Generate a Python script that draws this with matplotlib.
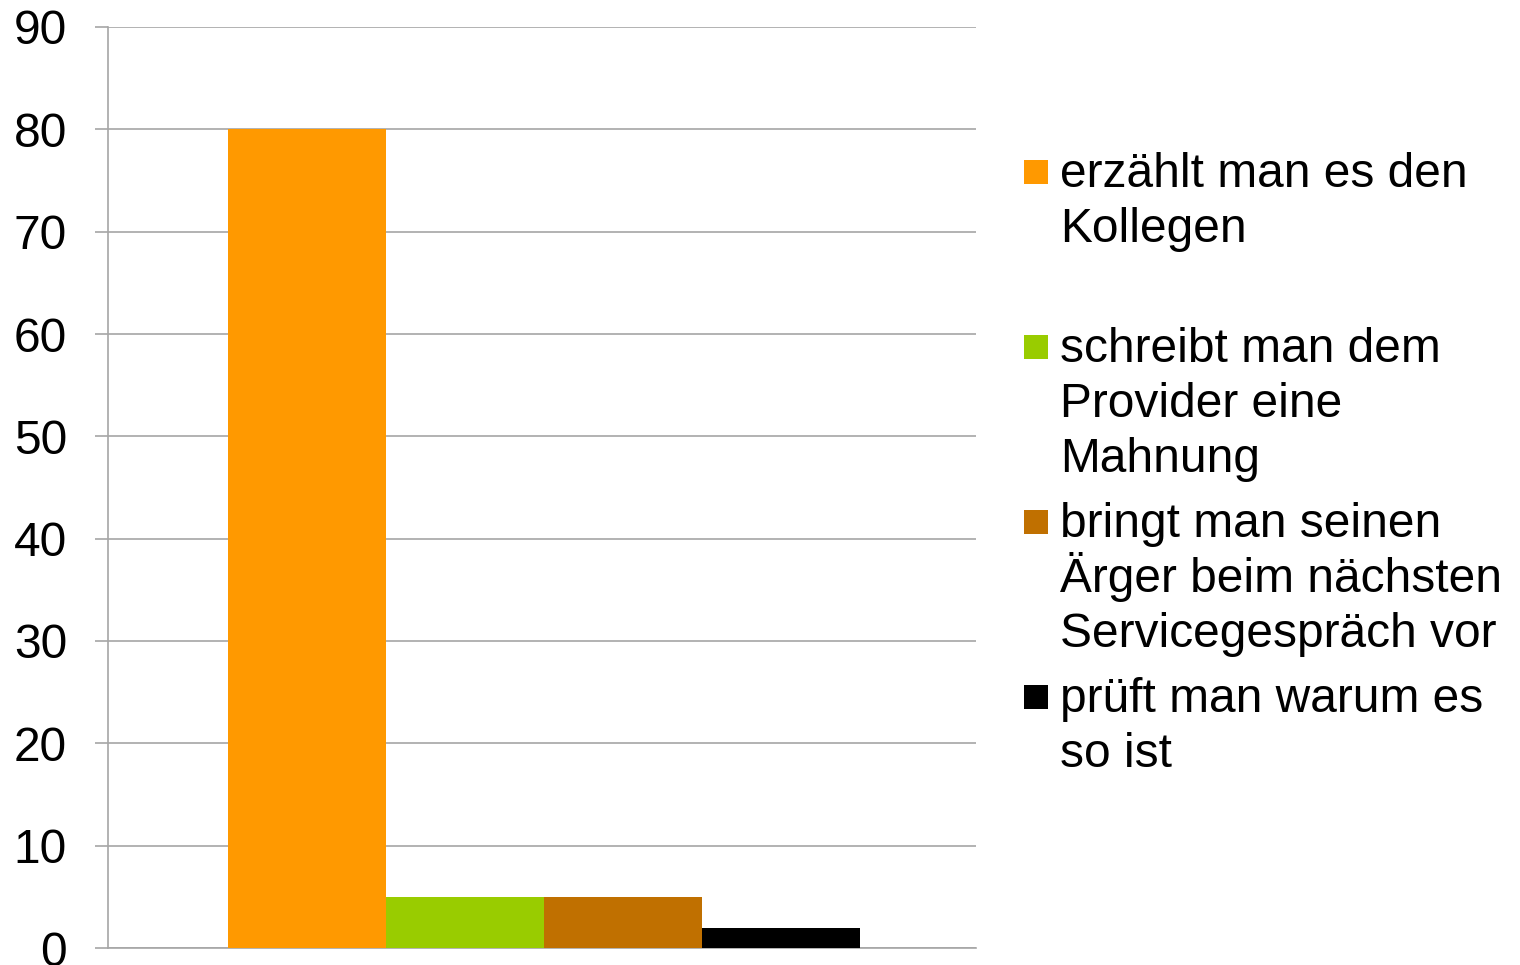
import matplotlib
matplotlib.use("Agg")
import matplotlib.pyplot as plt
from matplotlib.patches import Rectangle

labels = [
    "erzählt man es den\nKollegen",
    "schreibt man dem\nProvider eine\nMahnung",
    "bringt man seinen\nÄrger beim nächsten\nServicegespräch vor",
    "prüft man warum es\nso ist",
]
values = [80, 5, 5, 2]
colors = ["#FF9900", "#99CC00", "#C07000", "#000000"]
yticks = [0, 10, 20, 30, 40, 50, 60, 70, 80, 90]

W, H = 1520, 965
plt.rcParams['font.family'] = ['Liberation Sans', 'DejaVu Sans']
fig = plt.figure(figsize=(W / 100, H / 100), dpi=100)
ax = fig.add_axes([108 / W, 1 - 948 / H, (976 - 108) / W, (948 - 27) / H])

bw = 158 / 868
for i, (v, c) in enumerate(zip(values, colors)):
    ax.bar((i - 1.5) * bw + 0.002, v, width=bw, color=c, zorder=3, linewidth=0)

ax.set_xlim(-0.5, 0.5)
ax.set_ylim(0, 90)
ax.set_yticks(yticks)
ax.set_yticklabels([str(t) for t in yticks], fontsize=34.5)
ax.set_xticks([])
grid_c = "#A6A6A6"
ax.yaxis.grid(True, color=grid_c, linewidth=1.2, zorder=0)
ax.tick_params(axis='y', length=9.5, width=1.2, color=grid_c, pad=20)
for s in ["top", "right"]:
    ax.spines[s].set_visible(False)
for s in ["left", "bottom"]:
    ax.spines[s].set_color(grid_c)
    ax.spines[s].set_linewidth(1.2)
ax.set_axisbelow(True)

# legend (manual layout to mimic top-aligned markers)
entry_step = 175
line_step = 55
for i, (lab, c) in enumerate(zip(labels, colors)):
    base = 187 + i * entry_step
    fig.add_artist(Rectangle((1024 / W, 1 - (base - 3) / H), 24 / W, 24 / H,
                             transform=fig.transFigure, color=c, linewidth=0))
    for j, line in enumerate(lab.split("\n")):
        fig.text(1060 / W, 1 - (base + j * line_step) / H, line, fontsize=34.5,
                 va='baseline', ha='left', color='black')

fig.savefig("out.png", dpi=100)
